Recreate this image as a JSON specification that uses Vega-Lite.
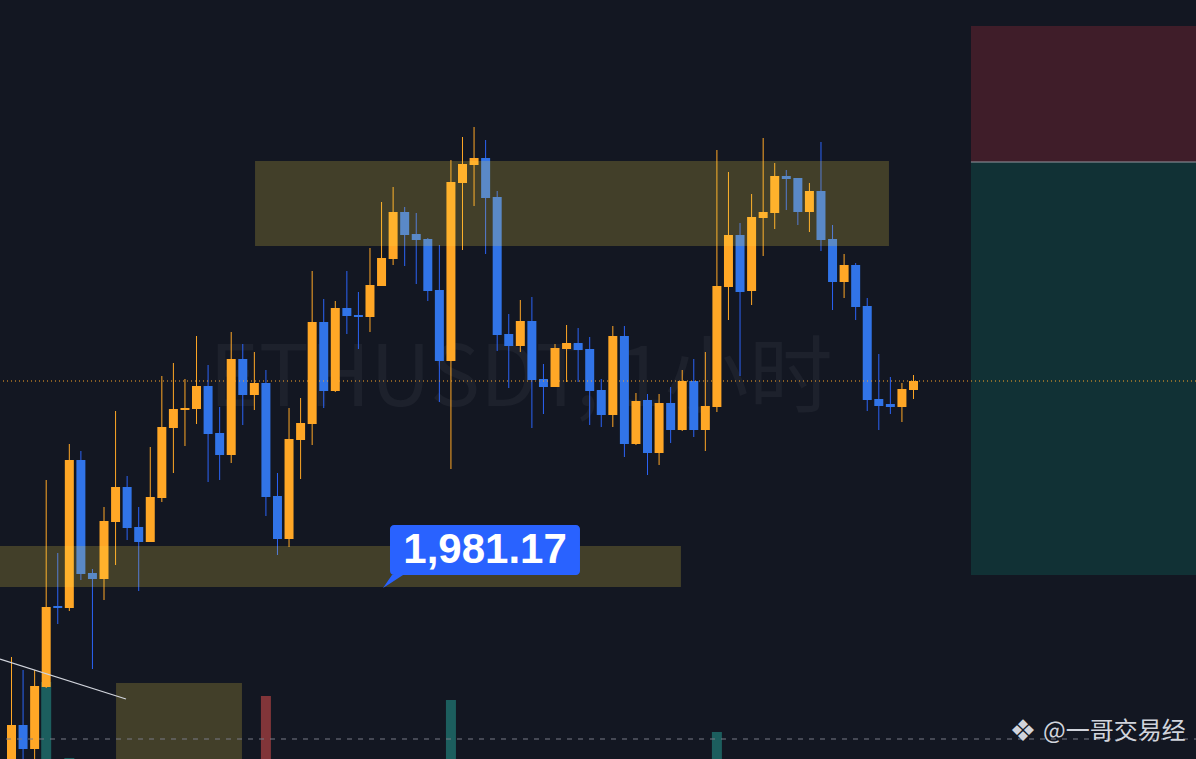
{
  "$schema": "https://vega.github.io/schema/vega-lite/v6.json",
  "width": 1196,
  "height": 759,
  "autosize": {"type": "fit", "contains": "padding"},
  "padding": 0,
  "background": "#131722",
  "config": {"view": {"stroke": null}, "axis": {"disable": true}, "legend": {"disable": true}},
  "datasets": {
    "candles": [
      {"i":0,"o":1935.42,"h":1963.67,"l":1932.92,"c":1946.67},
      {"i":1,"o":1946.67,"h":1960.42,"l":1934.17,"c":1940.67},
      {"i":2,"o":1940.67,"h":1960.42,"l":1935.42,"c":1956.42},
      {"i":3,"o":1956.17,"h":2007.92,"l":1955.92,"c":1976.17},
      {"i":4,"o":1976.42,"h":1989.67,"l":1971.92,"c":1975.92},
      {"i":5,"o":1975.92,"h":2016.92,"l":1975.17,"c":2012.92},
      {"i":6,"o":2012.92,"h":2015.17,"l":1982.92,"c":1984.42},
      {"i":7,"o":1984.67,"h":1985.67,"l":1960.67,"c":1983.17},
      {"i":8,"o":1983.17,"h":2001.17,"l":1977.92,"c":1997.67},
      {"i":9,"o":1997.42,"h":2025.17,"l":1986.67,"c":2006.17},
      {"i":10,"o":2006.17,"h":2008.92,"l":1992.92,"c":1995.92},
      {"i":11,"o":1996.17,"h":2001.17,"l":1980.17,"c":1992.42},
      {"i":12,"o":1992.42,"h":2016.17,"l":1992.42,"c":2003.67},
      {"i":13,"o":2003.42,"h":2033.92,"l":2002.42,"c":2021.17},
      {"i":14,"o":2020.92,"h":2037.17,"l":2009.67,"c":2025.67},
      {"i":15,"o":2025.42,"h":2033.17,"l":2016.42,"c":2025.92},
      {"i":16,"o":2025.67,"h":2043.92,"l":2021.92,"c":2031.42},
      {"i":17,"o":2031.42,"h":2036.67,"l":2007.42,"c":2019.42},
      {"i":18,"o":2019.67,"h":2026.17,"l":2007.92,"c":2014.17},
      {"i":19,"o":2014.17,"h":2044.92,"l":2012.17,"c":2038.17},
      {"i":20,"o":2038.17,"h":2041.92,"l":2021.67,"c":2029.17},
      {"i":21,"o":2029.17,"h":2039.92,"l":2025.42,"c":2032.17},
      {"i":22,"o":2032.17,"h":2035.42,"l":1998.92,"c":2003.67},
      {"i":23,"o":2003.92,"h":2009.67,"l":1989.17,"c":1993.17},
      {"i":24,"o":1993.17,"h":2025.92,"l":1991.17,"c":2018.17},
      {"i":25,"o":2017.92,"h":2028.42,"l":2008.17,"c":2022.17},
      {"i":26,"o":2021.92,"h":2060.17,"l":2016.67,"c":2047.42},
      {"i":27,"o":2047.42,"h":2053.17,"l":2025.92,"c":2030.17},
      {"i":28,"o":2030.17,"h":2052.67,"l":2029.92,"c":2050.92},
      {"i":29,"o":2050.92,"h":2060.17,"l":2044.42,"c":2048.92},
      {"i":30,"o":2049.17,"h":2054.92,"l":2040.67,"c":2048.67},
      {"i":31,"o":2048.67,"h":2065.92,"l":2044.92,"c":2056.67},
      {"i":32,"o":2056.42,"h":2077.42,"l":2056.42,"c":2063.42},
      {"i":33,"o":2063.17,"h":2081.17,"l":2061.67,"c":2074.92},
      {"i":34,"o":2074.92,"h":2076.17,"l":2061.42,"c":2069.17},
      {"i":35,"o":2069.42,"h":2074.67,"l":2056.92,"c":2067.92},
      {"i":36,"o":2068.17,"h":2068.42,"l":2052.67,"c":2055.17},
      {"i":37,"o":2055.42,"h":2066.67,"l":2027.42,"c":2037.67},
      {"i":38,"o":2037.67,"h":2087.92,"l":2010.67,"c":2082.42},
      {"i":39,"o":2082.17,"h":2093.67,"l":2065.42,"c":2086.92},
      {"i":40,"o":2086.67,"h":2096.17,"l":2076.42,"c":2088.42},
      {"i":41,"o":2088.42,"h":2092.92,"l":2064.42,"c":2078.42},
      {"i":42,"o":2078.67,"h":2080.17,"l":2040.17,"c":2044.17},
      {"i":43,"o":2044.42,"h":2049.42,"l":2030.92,"c":2041.42},
      {"i":44,"o":2041.42,"h":2052.92,"l":2039.92,"c":2047.67},
      {"i":45,"o":2047.67,"h":2053.67,"l":2020.92,"c":2032.92},
      {"i":46,"o":2033.17,"h":2036.92,"l":2024.42,"c":2031.17},
      {"i":47,"o":2031.17,"h":2041.92,"l":2031.17,"c":2040.92},
      {"i":48,"o":2040.67,"h":2046.67,"l":2032.42,"c":2042.17},
      {"i":49,"o":2042.17,"h":2045.92,"l":2032.42,"c":2040.42},
      {"i":50,"o":2040.67,"h":2043.67,"l":2021.67,"c":2030.17},
      {"i":51,"o":2030.42,"h":2033.17,"l":2021.17,"c":2024.17},
      {"i":52,"o":2024.17,"h":2046.42,"l":2021.17,"c":2043.92},
      {"i":53,"o":2043.92,"h":2046.42,"l":2013.67,"c":2016.92},
      {"i":54,"o":2016.92,"h":2029.67,"l":2016.67,"c":2027.67},
      {"i":55,"o":2027.92,"h":2029.42,"l":2009.17,"c":2014.67},
      {"i":56,"o":2014.67,"h":2029.42,"l":2011.67,"c":2027.17},
      {"i":57,"o":2027.17,"h":2031.17,"l":2017.17,"c":2020.42},
      {"i":58,"o":2020.42,"h":2035.42,"l":2020.17,"c":2032.67},
      {"i":59,"o":2032.67,"h":2038.17,"l":2018.67,"c":2020.42},
      {"i":60,"o":2020.42,"h":2039.92,"l":2015.17,"c":2026.42},
      {"i":61,"o":2026.17,"h":2090.42,"l":2024.92,"c":2056.42},
      {"i":62,"o":2056.17,"h":2084.92,"l":2047.92,"c":2069.17},
      {"i":63,"o":2069.17,"h":2072.17,"l":2033.92,"c":2054.92},
      {"i":64,"o":2055.17,"h":2079.42,"l":2051.67,"c":2073.67},
      {"i":65,"o":2073.42,"h":2093.42,"l":2063.92,"c":2074.92},
      {"i":66,"o":2074.67,"h":2087.17,"l":2070.67,"c":2083.92},
      {"i":67,"o":2083.92,"h":2085.42,"l":2075.42,"c":2083.17},
      {"i":68,"o":2083.42,"h":2083.42,"l":2071.67,"c":2074.92},
      {"i":69,"o":2074.92,"h":2082.17,"l":2069.92,"c":2080.17},
      {"i":70,"o":2080.17,"h":2092.42,"l":2065.17,"c":2067.92},
      {"i":71,"o":2068.17,"h":2071.67,"l":2050.42,"c":2057.42},
      {"i":72,"o":2057.42,"h":2064.42,"l":2053.42,"c":2061.67},
      {"i":73,"o":2061.67,"h":2062.17,"l":2047.92,"c":2051.17},
      {"i":74,"o":2051.42,"h":2053.42,"l":2025.17,"c":2027.92},
      {"i":75,"o":2028.17,"h":2039.42,"l":2020.42,"c":2026.42},
      {"i":76,"o":2026.92,"h":2033.67,"l":2024.42,"c":2026.17},
      {"i":77,"o":2026.17,"h":2032.17,"l":2022.42,"c":2030.67},
      {"i":78,"o":2030.42,"h":2034.17,"l":2028.17,"c":2032.67}
    ],
    "volume": [
      {"i":3,"v":2029,"dir":"up"},
      {"i":5,"v":26,"dir":"up"},
      {"i":22,"v":1660,"dir":"down"},
      {"i":38,"v":1555,"dir":"up"},
      {"i":61,"v":711,"dir":"up"}
    ],
    "boxes": [
      {"kind":"zone","x1":21.06,"x2":75.88,"y1":2087.67,"y2":2066.42},
      {"kind":"zone","x1":-0.9945,"x2":57.89,"y1":1991.42,"y2":1981.17},
      {"kind":"zone","x1":9.04,"x2":19.93,"y1":1957.17,"y2":1938.17},
      {"kind":"stop","x1":82.97,"x2":102.43,"y1":2121.42,"y2":2087.42},
      {"kind":"target","x1":82.97,"x2":102.43,"y1":2087.42,"y2":1984.17}
    ],
    "trend": [
      {"x":-0.994,"y":1963.17},
      {"x":9.9,"y":1953.17}
    ],
    "tail": [
      {"x":32.13,"top":1980.92,"bot":1980.92},
      {"x":32.9,"top":1984.17,"bot":1982.38},
      {"x":33.86,"top":1984.17,"bot":1984.17}
    ]
  },
  "layer": [
    {
      "data": {"name": "volume"},
      "mark": {"type": "bar", "width": 10, "opacity": 0.5, "clip": true},
      "encoding": {
        "x": {"field": "i", "type": "quantitative", "scale": {"domain": [-0.9945, 102.43], "nice": false, "zero": false, "padding": 0}},
        "y": {"field": "v", "type": "quantitative", "scale": {"domain": [0, 20000], "nice": false}},
        "color": {"field": "dir", "type": "nominal", "scale": {"domain": ["up", "down"], "range": ["#26A69A", "#EF5350"]}}
      }
    },
    {
      "layer": [
        {
          "data": {"values": [{}]},
          "mark": {"type": "text", "text": "ETHUSDT, 1小时", "font": "Noto Sans CJK SC", "fontSize": 84, "color": "#1D212C", "align": "center", "baseline": "alphabetic", "clip": true},
          "encoding": {
            "x": {"datum": 44.06, "type": "quantitative", "scale": {"domain": [-0.9945, 102.43], "nice": false, "zero": false, "padding": 0}},
            "y": {"datum": 2026.42, "type": "quantitative", "scale": {"domain": [1938.17, 2127.92], "nice": false, "zero": false}}
          }
        },
        {
          "data": {"name": "candles"},
          "mark": {"type": "rule", "strokeWidth": 1, "clip": true},
          "encoding": {
            "x": {"field": "i", "type": "quantitative"},
            "y": {"field": "l", "type": "quantitative"},
            "y2": {"field": "h"},
            "color": {"condition": {"test": "datum.c >= datum.o", "value": "#FFA726"}, "value": "#2B63F6"}
          }
        },
        {
          "data": {"name": "candles"},
          "mark": {"type": "bar", "width": 9, "clip": true},
          "encoding": {
            "x": {"field": "i", "type": "quantitative"},
            "y": {"field": "o", "type": "quantitative"},
            "y2": {"field": "c"},
            "color": {"condition": {"test": "datum.c >= datum.o", "value": "#FFA726"}, "value": "#3174E8"}
          }
        },
        {
          "data": {"name": "boxes"},
          "mark": {"type": "rect", "fillOpacity": 0.2, "clip": true},
          "encoding": {
            "x": {"field": "x1", "type": "quantitative"},
            "x2": {"field": "x2"},
            "y": {"field": "y1", "type": "quantitative"},
            "y2": {"field": "y2"},
            "color": {"field": "kind", "type": "nominal", "scale": {"domain": ["zone", "stop", "target"], "range": ["#FFDF45", "#F23645", "#089981"]}}
          }
        },
        {
          "data": {"values": [{}]},
          "mark": {"type": "rule", "color": "#9598A1", "strokeWidth": 1, "clip": true},
          "encoding": {
            "x": {"datum": 82.97, "type": "quantitative"},
            "x2": {"datum": 102.43},
            "y": {"datum": 2087.42, "type": "quantitative"}
          }
        },
        {
          "data": {"values": [{}]},
          "mark": {"type": "rule", "color": "#787B86", "strokeWidth": 1, "strokeDash": [5, 6], "clip": true},
          "encoding": {
            "x": {"datum": -0.476, "type": "quantitative"},
            "x2": {"datum": 102.43},
            "y": {"datum": 1943.17, "type": "quantitative"}
          }
        },
        {
          "data": {"values": [{}]},
          "mark": {"type": "rule", "color": "#FFA726", "strokeWidth": 1, "strokeDash": [1, 3], "clip": true},
          "encoding": {
            "y": {"datum": 2032.67, "type": "quantitative"}
          }
        },
        {
          "data": {"name": "trend"},
          "mark": {"type": "line", "color": "#D1D4DC", "strokeWidth": 1.2, "clip": true},
          "encoding": {
            "x": {"field": "x", "type": "quantitative"},
            "y": {"field": "y", "type": "quantitative"}
          }
        },
        {
          "data": {"values": [{}]},
          "mark": {"type": "rect", "color": "#2962FF", "cornerRadius": 4},
          "encoding": {
            "x": {"datum": 32.73, "type": "quantitative"},
            "x2": {"datum": 49.16},
            "y": {"datum": 1996.67, "type": "quantitative"},
            "y2": {"datum": 1984.17}
          }
        },
        {
          "data": {"name": "tail"},
          "mark": {"type": "area", "color": "#2962FF"},
          "encoding": {
            "x": {"field": "x", "type": "quantitative"},
            "y": {"field": "top", "type": "quantitative"},
            "y2": {"field": "bot"}
          }
        },
        {
          "data": {"values": [{}]},
          "mark": {"type": "text", "text": "1,981.17", "font": "Liberation Sans", "fontWeight": "bold", "fontSize": 42, "color": "#FFFFFF", "align": "center", "baseline": "middle"},
          "encoding": {
            "x": {"datum": 40.95, "type": "quantitative"},
            "y": {"datum": 1990.42, "type": "quantitative"}
          }
        },
        {
          "data": {"values": [{}]},
          "mark": {"type": "text", "text": "❖", "font": "DejaVu Sans", "fontSize": 30, "color": "#D1D4DC", "align": "center", "baseline": "middle"},
          "encoding": {
            "x": {"datum": 87.47, "type": "quantitative"},
            "y": {"datum": 1944.92, "type": "quantitative"}
          }
        },
        {
          "data": {"values": [{}]},
          "mark": {"type": "text", "text": "@一哥交易经", "font": "Noto Sans CJK SC", "fontSize": 24, "color": "#D1D4DC", "align": "left", "baseline": "middle"},
          "encoding": {
            "x": {"datum": 89.2, "type": "quantitative"},
            "y": {"datum": 1944.92, "type": "quantitative"}
          }
        }
      ]
    }
  ],
  "resolve": {"scale": {"y": "independent", "color": "independent"}}
}
